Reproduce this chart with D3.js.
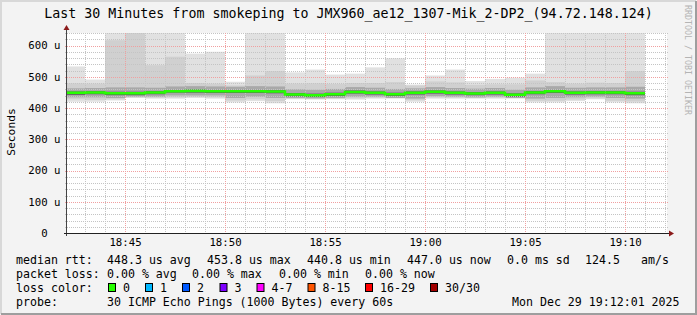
<!DOCTYPE html>
<html>
  <head>
    <meta http-equiv="Content-Type" content="text/html;charset=utf-8" />
    <title>smokeping JMX960</title>
    <script type="text/javascript" src="https://d3js.org/d3.v7.min.js"></script>
    <style>
      body { margin: 0; background: #f3f3f3; }
      text { font-family: "DejaVu Sans Mono", monospace; fill: #000; white-space: pre; }
    </style>
  </head>
  <body>
    <div id="chart"></div>

    <script type="text/javascript">
      // minute slots, 18:42 .. 19:10 (each bar covers one minute)
      var firstSlot = new Date(2025, 11, 29, 18, 42, 0);
      // median rtt per minute (us)
      var median = [448.6, 449.6, 447.4, 447.0, 449.6, 453.8, 454.6, 453.8, 453.8, 453.8, 452.7, 443.0, 441.0, 444.3, 451.5,
                    448.6, 444.3, 448.6, 451.7, 448.6, 446.4, 448.6, 442.1, 449.6, 453.8, 448.6, 449.6, 449.6, 447.0];
      // smoke: ping distribution per minute (us)
      var pingMax = [533, 491, 700, 700, 700, 700, 574, 580, 484, 700, 700, 514, 523, 507, 510,
                     530, 559, 475, 504, 523, 486, 493, 497, 510, 700, 700, 700, 700, 700];
      var p90 = [479, 478, 617, 650, 537, 564, 480, 478, 472, 504, 518, 478, 479, 477, 480,
                 480, 483, 472, 485, 482, 474, 476, 476, 488, 483, 478, 481, 480, 518];
      var p75 = [463, 464, 466, 466, 465, 469, 470, 469, 468, 470, 469, 460, 458, 461, 467,
                 465, 461, 463, 467, 464, 462, 464, 458, 466, 470, 465, 466, 466, 468];
      var p60 = [453, 454, 452, 452, 454, 458, 459, 458, 458, 458, 457, 448, 446, 449, 456,
                 453, 449, 453, 456, 453, 451, 453, 447, 454, 458, 453, 454, 454, 452];
      var p40 = [442, 444, 441, 441, 444, 449, 449, 448, 448, 448, 447, 437, 435, 438, 446,
                 443, 438, 443, 446, 443, 441, 443, 436, 444, 448, 443, 444, 444, 441];
      var p25 = [434, 434, 432, 436, 436, 440, 440, 440, 432, 436, 432, 432, 431, 432, 436,
                 436, 432, 430, 438, 436, 434, 436, 432, 430, 432, 434, 436, 432, 430];
      var p10 = [428, 426, 428, 434, 433, 434, 436, 434, 424, 428, 422, 430, 429, 430, 431,
                 433, 432, 425, 434, 433, 432, 433, 432, 423, 423, 427, 431, 423, 421];
      var pingMin = [420, 420, 424, 432, 430, 430, 432, 430, 418, 422, 415, 428, 427, 428, 427,
                     430, 430, 420, 430, 430, 430, 430, 430, 418, 418, 422, 428, 418, 415];

      var yTicks = [0, 100, 200, 300, 400, 500, 600];
      var lossLabels = ["0", "1", "2", "3", "4-7", "8-15", "16-29", "30/30"];
      var lossColors = ["#26ff00", "#00b8ff", "#0059ff", "#7e00ff", "#ff00ff", "#ff5500", "#ff0000", "#a10000"];

      var W = 697, H = 315;
      // plot box (note: "top" is reserved on window, so use other names)
      var pL = 67, pR = 667, pT = 33, pB = 233;

      var svg = d3.select("#chart").append("svg")
        .attr("width", W).attr("height", H);

      // background + shaded frame
      svg.append("rect").attr("width", W).attr("height", H).attr("fill", "#f3f3f3");
      svg.append("path").attr("d", "M1,314 L1,1 L696,1").attr("fill", "none").attr("stroke", "#d8d8d8").attr("stroke-width", 2);
      svg.append("path").attr("d", "M1,314 L696,314 L696,1").attr("fill", "none").attr("stroke", "#9e9e9e").attr("stroke-width", 2);

      var x = d3.scaleTime()
        .domain([new Date(2025, 11, 29, 18, 42, 6), new Date(2025, 11, 29, 19, 12, 6)])
        .range([pL, pR]);
      var y = d3.scaleLinear().domain([0, 640]).range([pB, pT]);

      svg.append("rect").attr("x", pL).attr("y", pT)
        .attr("width", pR - pL).attr("height", pB - pT).attr("fill", "#fff");

      svg.append("defs").append("clipPath").attr("id", "plot")
        .append("rect").attr("x", pL).attr("y", pT).attr("width", pR - pL).attr("height", pB - pT);

      var slots = median.map(function(m, i) {
        return { t0: d3.timeMinute.offset(firstSlot, i), t1: d3.timeMinute.offset(firstSlot, i + 1), i: i };
      });

      var plot = svg.append("g").attr("clip-path", "url(#plot)");

      var bands = [
        { lo: pingMin, hi: pingMax, color: "#e1e1e1" },
        { lo: p10, hi: p90, color: "#d0d0d0" },
        { lo: p25, hi: p75, color: "#a9a9a9" },
        { lo: p40, hi: p60, color: "#5e5e5e" }
      ];
      bands.forEach(function(b) {
        plot.append("g").selectAll("rect").data(slots).join("rect")
          .attr("x", d => x(d.t0))
          .attr("width", d => x(d.t1) - x(d.t0))
          .attr("y", d => y(b.hi[d.i]))
          .attr("height", d => y(b.lo[d.i]) - y(b.hi[d.i]))
          .attr("fill", b.color);
      });

      // grid (drawn over the smoke, like rrdtool)
      var grid = svg.append("g");
      var minorY = d3.range(0, 641, 20);
      grid.selectAll(".gy").data(minorY.filter(v => v % 100 !== 0)).join("line")
        .attr("x1", pL - 2).attr("x2", pR + 2)
        .attr("y1", d => Math.round(y(d)) + 0.5).attr("y2", d => Math.round(y(d)) + 0.5)
        .attr("stroke", "#c4c4c4").attr("stroke-dasharray", "1,1");
      var minutes = d3.timeMinute.range(x.domain()[0], x.domain()[1]);
      grid.selectAll(".gx").data(minutes.filter(d => d.getMinutes() % 5 !== 0)).join("line")
        .attr("x1", d => Math.round(x(d)) + 0.5).attr("x2", d => Math.round(x(d)) + 0.5)
        .attr("y1", pT).attr("y2", pB + 2)
        .attr("stroke", "#c4c4c4").attr("stroke-dasharray", "1,1");
      grid.selectAll(".my").data(yTicks.filter(v => v > 0)).join("line")
        .attr("x1", pL - 2).attr("x2", pR + 2)
        .attr("y1", d => Math.round(y(d)) + 0.5).attr("y2", d => Math.round(y(d)) + 0.5)
        .attr("stroke", "#f0a0a0").attr("stroke-dasharray", "1,1");
      grid.selectAll(".mx").data(minutes.filter(d => d.getMinutes() % 5 === 0)).join("line")
        .attr("x1", d => Math.round(x(d)) + 0.5).attr("x2", d => Math.round(x(d)) + 0.5)
        .attr("y1", pT).attr("y2", pB + 2)
        .attr("stroke", "#f0a0a0").attr("stroke-dasharray", "1,1");

      // median line, stepped, on top of the grid
      var medPts = slots.map(d => [d.t0, median[d.i]]);
      medPts.push([slots[slots.length - 1].t1, median[median.length - 1]]);
      var medLine = d3.line().x(d => x(d[0])).y(d => y(d[1])).curve(d3.curveStepAfter);
      svg.append("g").attr("clip-path", "url(#plot)")
        .append("path").datum(medPts).attr("d", medLine)
        .attr("fill", "none").attr("stroke", lossColors[0]).attr("stroke-width", 2.5);

      // axes
      var yAxis = d3.axisLeft(y).tickValues(yTicks).tickSize(0).tickPadding(6.5)
        .tickFormat(d => d === 0 ? "0  " : d + " u");
      var gY = svg.append("g").attr("transform", "translate(" + pL + ",0)").call(yAxis);
      gY.select(".domain").remove();
      gY.selectAll("text").style("font-size", "10.7px").style("font-family", "DejaVu Sans Mono");

      var xAxis = d3.axisBottom(x).ticks(d3.timeMinute.every(5)).tickSize(0).tickPadding(5)
        .tickFormat(d3.timeFormat("%H:%M"));
      var gX = svg.append("g").attr("transform", "translate(0," + pB + ")").call(xAxis);
      gX.select(".domain").remove();
      gX.selectAll("text").style("font-size", "10.7px").style("font-family", "DejaVu Sans Mono");

      svg.append("line").attr("x1", pL - 0.5).attr("x2", pL - 0.5).attr("y1", pB + 3).attr("y2", pT - 4)
        .attr("stroke", "#444");
      svg.append("line").attr("x1", pL - 3).attr("x2", pR + 4).attr("y1", pB + 0.5).attr("y2", pB + 0.5)
        .attr("stroke", "#222");
      svg.append("path").attr("d", "M" + (pL - 3.5) + "," + (pT - 3) + " L" + (pL + 2.5) + "," + (pT - 3) + " L" + (pL - 0.5) + "," + (pT - 8) + "Z")
        .attr("fill", "#8b1a1a");
      svg.append("path").attr("d", "M" + (pR + 2) + "," + (pB - 2.5) + " L" + (pR + 2) + "," + (pB + 3.5) + " L" + (pR + 7) + "," + (pB + 0.5) + "Z")
        .attr("fill", "#8b1a1a");

      // titles
      svg.append("text").attr("x", W / 2).attr("y", 18).attr("text-anchor", "middle")
        .style("font-size", "13.3px")
        .text("Last 30 Minutes from smokeping to JMX960_ae12_1307-Mik_2-DP2_(94.72.148.124)");
      svg.append("text").attr("transform", "translate(14.5,132) rotate(-90)").attr("text-anchor", "middle")
        .style("font-size", "11.3px").text("Seconds");
      svg.append("text").attr("transform", "translate(685,5) rotate(90)")
        .style("font-size", "8.3px").style("fill", "#b4b4b4").text("RRDTOOL / TOBI OETIKER");

      // legend
      var leg = svg.append("g").style("font-size", "11.6px");
      function lt(xp, yp, s) { leg.append("text").attr("x", xp).attr("y", yp).text(s); }
      lt(16, 264, "median rtt:");
      lt(107, 264, "448.3 us avg");
      lt(207, 264, "453.8 us max");
      lt(307, 264, "440.8 us min");
      lt(407, 264, "447.0 us now");
      lt(507, 264, "0.0 ms sd");
      lt(585, 264, "124.5");
      lt(641, 264, "am/s");
      lt(16, 278, "packet loss:");
      lt(107, 278, "0.00 % avg");
      lt(192, 278, "0.00 % max");
      lt(279, 278, "0.00 % min");
      lt(365, 278, "0.00 % now");
      lt(16, 292, "loss color:");
      var boxX = [108, 145, 182, 219.5, 256.5, 307.5, 365, 430];
      lossLabels.forEach(function(l, i) {
        leg.append("rect").attr("x", boxX[i] + 0.5).attr("y", 283.5).attr("width", 7).attr("height", 8)
          .attr("fill", lossColors[i]).attr("stroke", "#000");
        lt(boxX[i] + 15, 292, l);
      });
      lt(16, 306, "probe:");
      lt(107, 306, "30 ICMP Echo Pings (1000 Bytes) every 60s");
      lt(512, 306, "Mon Dec 29 19:12:01 2025");
    </script>
  </body>
</html>
